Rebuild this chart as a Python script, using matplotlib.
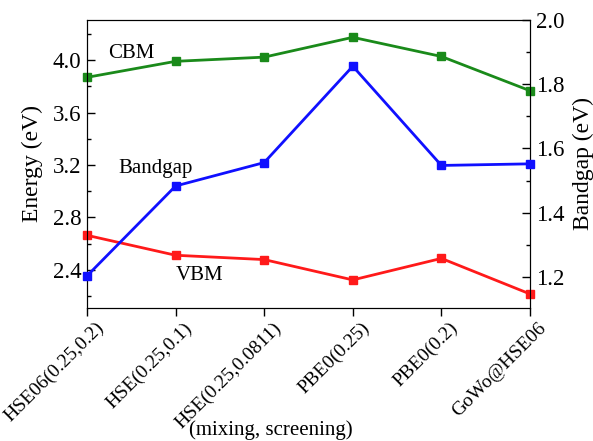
import matplotlib
matplotlib.use("Agg")
import matplotlib.pyplot as plt
import matplotlib.transforms as mtransforms
from matplotlib.ticker import MultipleLocator

plt.rcParams['font.family'] = ['Liberation Serif', 'DejaVu Serif']

methods = ['HSE06(0.25,0.2)', 'HSE(0.25,0.1)', 'HSE(0.25,0.0811)',
           'PBE0(0.25)', 'PBE0(0.2)', 'GoWo@HSE06']
cbm = [3.868, 3.990, 4.022, 4.173, 4.027, 3.766]
vbm = [2.664, 2.512, 2.479, 2.324, 2.488, 2.217]
bandgap = [1.203, 1.483, 1.556, 1.856, 1.547, 1.552]

x = list(range(len(methods)))

fig = plt.figure(figsize=(5.93, 4.41), dpi=100)
ax = fig.add_axes([87 / 593, 1 - 308 / 441, 443 / 593, 288 / 441])
ax2 = ax.twinx()

ax.plot(x, cbm, color='#1a8a1a', marker='s', markersize=6, linewidth=2, clip_on=False, zorder=3)
ax.plot(x, vbm, color='#ff1a1a', marker='s', markersize=6, linewidth=2, clip_on=False, zorder=3)
ax2.plot(x, bandgap, color='#1010ff', marker='s', markersize=6, linewidth=2, clip_on=False, zorder=3)

ax.set_xlim(0, 5)
ax.set_ylim(2.11, 4.305)
ax2.set_ylim(1.103, 2.0)

ax.yaxis.set_major_locator(MultipleLocator(0.4))
ax.yaxis.set_minor_locator(MultipleLocator(0.2))
ax2.yaxis.set_major_locator(MultipleLocator(0.2))
ax2.yaxis.set_minor_locator(MultipleLocator(0.1))
ax.yaxis.set_major_formatter(plt.FormatStrFormatter('%.1f'))
ax2.yaxis.set_major_formatter(plt.FormatStrFormatter('%.1f'))

ax.set_xticks(x)
ax.set_xticklabels(methods, rotation=45, ha='right', va='top', rotation_mode='anchor', fontsize=14)
ax.tick_params(axis='x', direction='out', length=6, width=1, pad=2)
# shift the rotated labels a little to the right, as in the original
shift = mtransforms.ScaledTranslation(8 / 100, 0, fig.dpi_scale_trans)
for lbl in ax.get_xticklabels():
    lbl.set_transform(lbl.get_transform() + shift)

ax.tick_params(axis='y', which='major', direction='in', length=6, width=1, labelsize=16.5, pad=4)
ax.tick_params(axis='y', which='minor', direction='in', length=3, width=1)
ax2.tick_params(axis='y', which='major', direction='in', length=6, width=1, labelsize=16.5, pad=4)
ax2.tick_params(axis='y', which='minor', direction='in', length=3, width=1)

ax.set_ylabel('Energy (eV)', fontsize=17)
ax2.set_ylabel('Bandgap (eV)', fontsize=17)
ax.yaxis.set_label_coords(-0.10, 0.5)
ax2.yaxis.set_label_coords(1.097, 0.5)
ax.set_xlabel('(mixing, screening)', fontsize=15, va='top')
ax.xaxis.set_label_coords(0.415, -0.39)

ax.text(0.24, 4.046, 'CBM', fontsize=15, va='center')
ax.text(0.35, 3.177, 'Bandgap', fontsize=15, va='center')
ax.text(1.0, 2.36, 'VBM', fontsize=15, va='center')

plt.savefig('out.png', dpi=100)
